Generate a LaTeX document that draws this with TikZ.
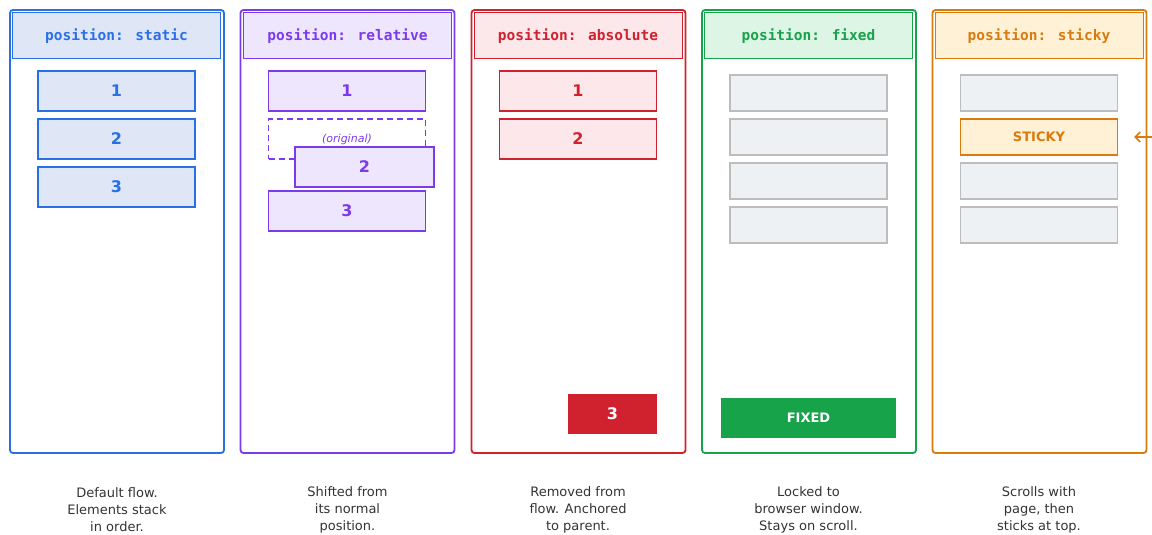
\documentclass[tikz,border=0pt]{standalone}
\usepackage{fontspec}
\setmainfont{DejaVu Sans}
\newfontfamily\monofam{DejaVu Sans Mono}
\usetikzlibrary{arrows.meta}

\definecolor{cblue}{HTML}{2B6FE6}
\definecolor{fblue}{HTML}{DFE7F6}
\definecolor{cpurple}{HTML}{7C3AED}
\definecolor{fpurple}{HTML}{EEE6FC}
\definecolor{cred}{HTML}{D0212F}
\definecolor{fred}{HTML}{FCE8EA}
\definecolor{cgreen}{HTML}{17A34A}
\definecolor{fgreen}{HTML}{DDF5E5}
\definecolor{corange}{HTML}{DA7A0C}
\definecolor{forange}{HTML}{FFF1D6}
\definecolor{cgray}{HTML}{BDBDBD}
\definecolor{fgray}{HTML}{EEF1F4}
\definecolor{captxt}{HTML}{333333}

\tikzset{
  panel/.style={draw=#1, line width=1.8pt, rounded corners=3pt, fill=white,
    minimum width=214pt, minimum height=443pt, inner sep=0pt},
  head/.style={draw=#1, line width=1pt,
    minimum width=208pt, minimum height=46pt, inner sep=0pt, text depth=1pt,
    text=#1, font=\fontsize{14.5}{16}\monofam\bfseries},
  item/.style={draw=#1, line width=1.3pt, minimum width=157pt, minimum height=40pt,
    inner sep=0pt, text=#1, font=\fontsize{16}{18}\selectfont\bfseries},
  grayitem/.style={draw=cgray, fill=fgray, line width=1.3pt, minimum width=157pt,
    minimum height=36pt, inner sep=0pt},
  caption/.style={align=center, text=captxt, font=\fontsize{13}{17}\selectfont},
  pointer/.style={draw=corange, line width=1.5pt, -{Straight Barb[length=5pt,width=10pt]}}
}

\begin{document}
\begin{tikzpicture}[x=1pt, y=-1pt]
\useasboundingbox (0,0) rectangle (1152,535);

% ---- position: static ----
\node[panel=cblue] (p1) at (117,231.5) {};
\node[head=cblue, fill=fblue] (h1) at (116.5,35.5) {position: static};
\node[item=cblue, fill=fblue] (a1) at (116.5,91) {1};
\node[item=cblue, fill=fblue] (a2) at (116.5,139) {2};
\node[item=cblue, fill=fblue] (a3) at (116.5,187) {3};
\node[caption] (c1) at (117,510) {Default flow.\\Elements stack\\in order.};

% ---- position: relative ----
\node[panel=cpurple] (p2) at (347.5,231.5) {};
\node[head=cpurple, fill=fpurple] (h2) at (347.5,35.5) {position: relative};
\node[item=cpurple, fill=fpurple] (b1) at (347,91) {1};
\node[draw=cpurple, dash pattern=on 6pt off 4pt, line width=1.3pt, minimum width=157pt,
  minimum height=40pt, inner sep=0pt] (borig) at (347,139) {};
\node[text=cpurple, font=\fontsize{11}{12}\selectfont\itshape, inner sep=0pt]
  (borigtxt) at (347,139) {(original)};
\node[item=cpurple, fill=fpurple, minimum width=139pt] (b2) at (364.5,167) {2};
\node[item=cpurple, fill=fpurple] (b3) at (347,211) {3};
\node[caption] (c2) at (347.5,510) {Shifted from\\its normal\\position.};

% ---- position: absolute ----
\node[panel=cred] (p3) at (578.5,231.5) {};
\node[head=cred, fill=fred] (h3) at (578,35.5) {position: absolute};
\node[item=cred, fill=fred] (r1) at (578,91) {1};
\node[item=cred, fill=fred] (r2) at (578,139) {2};
\node[fill=cred, minimum width=89pt, minimum height=40pt, inner sep=0pt,
  text=white, font=\fontsize{16}{18}\selectfont\bfseries] (r3) at (612.5,414) {3};
\node[caption] (c3) at (578,510) {Removed from\\flow. Anchored\\to parent.};

% ---- position: fixed ----
\node[panel=cgreen] (p4) at (809,231.5) {};
\node[head=cgreen, fill=fgreen] (h4) at (808.5,35.5) {position: fixed};
\node[grayitem] (f1) at (808.5,93) {};
\node[grayitem] (f2) at (808.5,137) {};
\node[grayitem] (f3) at (808.5,181) {};
\node[grayitem] (f4) at (808.5,225) {};
\node[fill=cgreen, minimum width=175pt, minimum height=40pt, inner sep=0pt,
  text=white, font=\fontsize{13}{16}\selectfont\bfseries] (fx) at (808.5,418) {FIXED};
\node[caption] (c4) at (808.5,510) {Locked to\\browser window.\\Stays on scroll.};

% ---- position: sticky ----
\node[panel=corange] (p5) at (1039.5,231.5) {};
\node[head=corange, fill=forange] (h5) at (1039,35.5) {position: sticky};
\node[grayitem] (s1) at (1039,93) {};
\node[grayitem, draw=corange, fill=forange, text=corange,
  font=\fontsize{13}{16}\selectfont\bfseries] (s2) at (1039,137) {STICKY};
\node[grayitem] (s3) at (1039,181) {};
\node[grayitem] (s4) at (1039,225) {};
\node[caption] (c5) at (1039,510) {Scrolls with\\page, then\\sticks at top.};

% pointer arriving from the right toward the sticky element
\coordinate (sfrom) at (1170,137);
\draw[pointer, shorten >=16pt] (sfrom) -- (s2.east);
\end{tikzpicture}
\end{document}
